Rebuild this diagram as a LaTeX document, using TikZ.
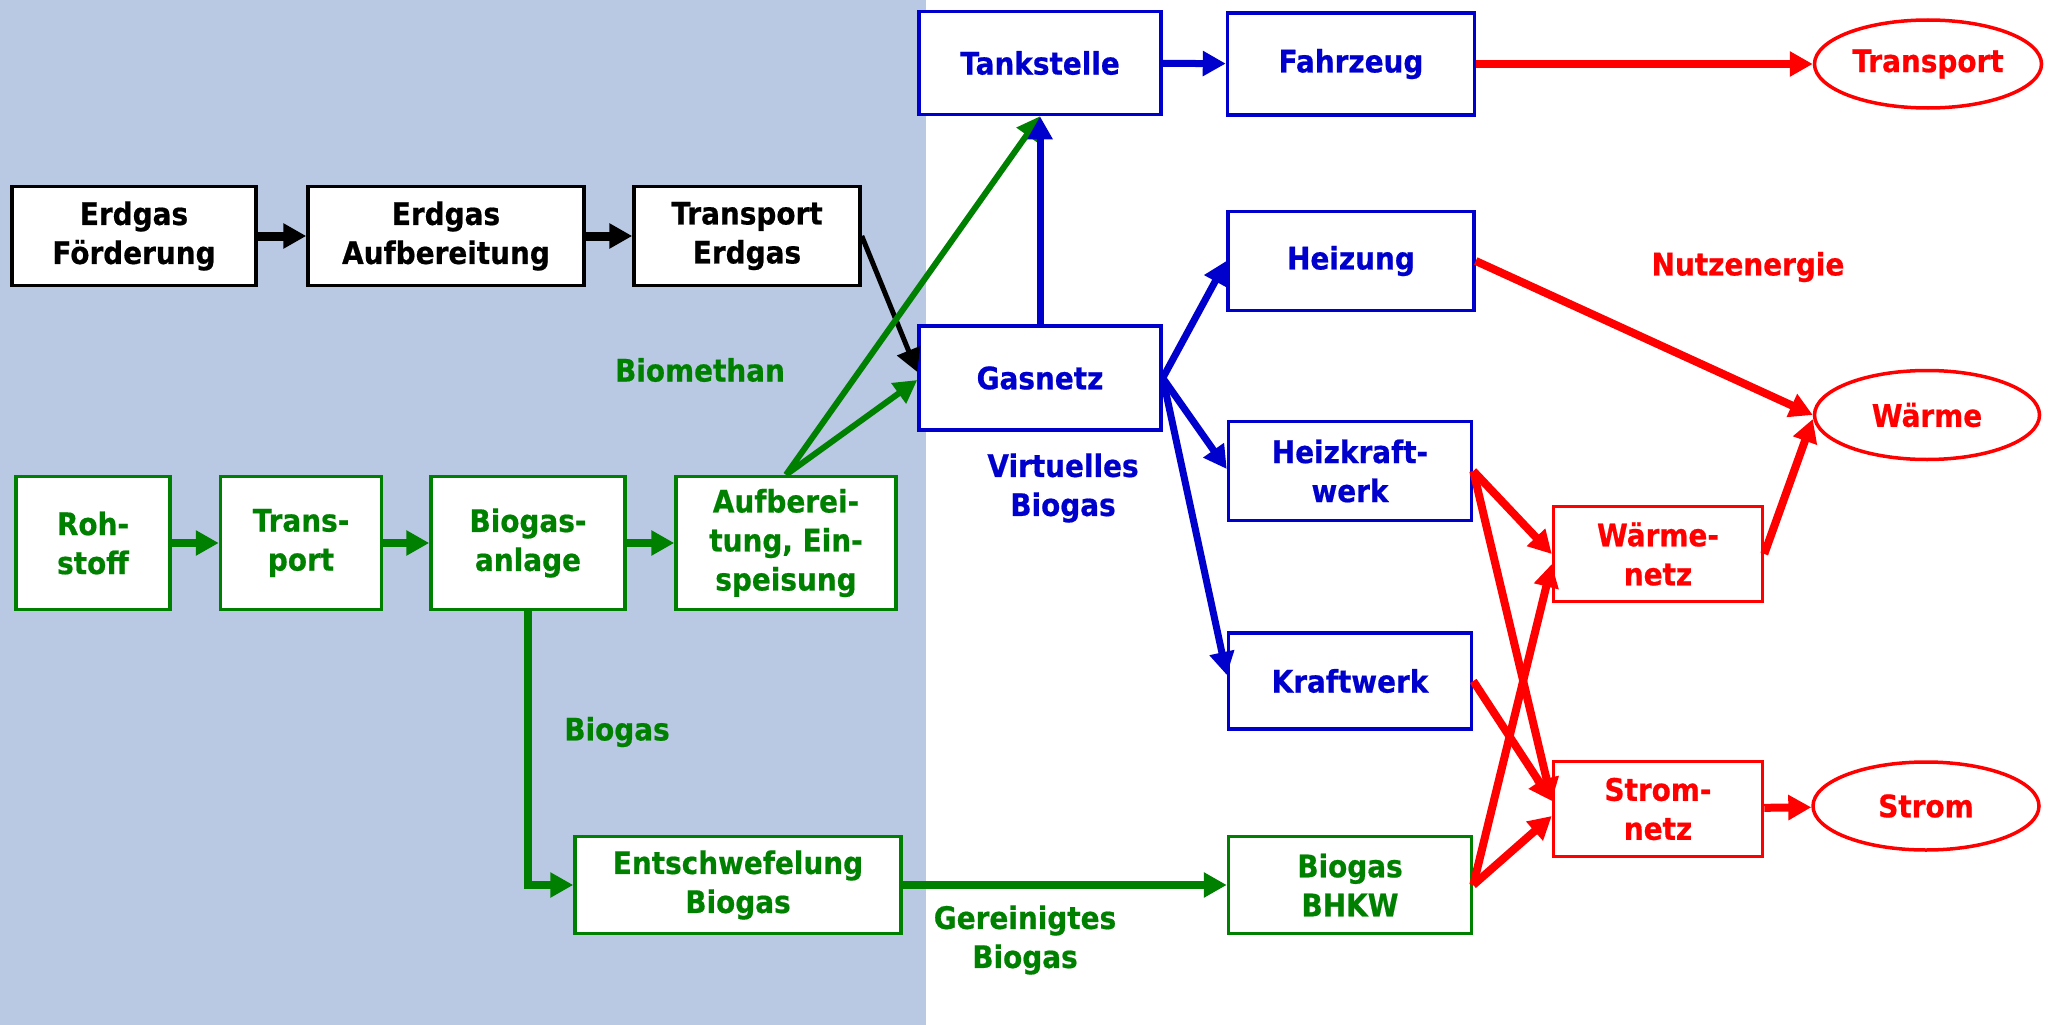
\documentclass[tikz,border=0pt]{standalone}
\usepackage{fontspec}
\setmainfont{DejaVu Sans}[FakeStretch=0.9, BoldFeatures={FakeBold=0.6}]
\usetikzlibrary{arrows.meta,shapes.geometric}

\definecolor{hintergrund}{RGB}{185,201,227}
\definecolor{gruen}{RGB}{0,128,0}
\definecolor{blau}{RGB}{0,0,204}
\definecolor{rot}{RGB}{255,0,0}

\tikzset{
  schrift/.style={font=\fontsize{31}{39}\selectfont\bfseries},
  kasten/.style={schrift, draw=#1, text=#1, fill=white, line width=3.5pt, inner sep=0pt, align=center},
  oval/.style={schrift, ellipse, draw=rot, text=rot, fill=white, line width=3.5pt, inner sep=0pt},
  beschriftung/.style={schrift, text=#1, align=center},
  pfeil/.style={draw=#1, line width=7pt, -{Triangle[length=23pt,width=24pt]}}
}

\begin{document}
\begin{tikzpicture}[x=1pt, y=-1pt]
        % Hintergrund
        \useasboundingbox (0,0) rectangle (2056,1025);
        \fill[white] (0,0) rectangle (2056,1025);
        \fill[hintergrund] (0,0) rectangle (926,1025);

        % Erdgas
        \node[kasten=black, minimum width=244, minimum height=99] (foerderung) at (134,236) {Erdgas\\Förderung};
        \node[kasten=black, minimum width=276, minimum height=99] (erdaufb) at (446,236) {Erdgas\\Aufbereitung};
        \node[kasten=black, minimum width=226, minimum height=99] (erdtrans) at (747,236) {Transport\\Erdgas};

        % Biogas
        \node[kasten=gruen, minimum width=154, minimum height=133] (rohstoff) at (93,543) {Roh-\\stoff};
        \node[kasten=gruen, minimum width=161, minimum height=133] (transp) at (301,543) {Trans-\\port};
        \node[kasten=gruen, minimum width=194, minimum height=133] (anlage) at (528,543) {Biogas-\\anlage};
        \node[kasten=gruen, minimum width=220, minimum height=133] (einspeis) at (786,543) {Aufberei-\\tung, Ein-\\speisung};
        \node[kasten=gruen, minimum width=326, minimum height=97] (entschw) at (738,885) {Entschwefelung\\Biogas};
        \node[kasten=gruen, minimum width=243, minimum height=97] (bhkw) at (1350,885) {Biogas\\BHKW};

        % Gasnetz und Verbraucher
        \node[kasten=blau, minimum width=242, minimum height=103] (tank) at (1040,63) {Tankstelle};
        \node[kasten=blau, minimum width=247, minimum height=102] (fahrzeug) at (1351,64) {Fahrzeug};
        \node[kasten=blau, minimum width=246, minimum height=99] (heizung) at (1351,261) {Heizung};
        \node[kasten=blau, minimum width=242, minimum height=104] (gasnetz) at (1040,378) {Gasnetz};
        \node[kasten=blau, minimum width=243, minimum height=99] (hkw) at (1350,471) {Heizkraft-\\werk};
        \node[kasten=blau, minimum width=243, minimum height=96] (kw) at (1350,681) {Kraftwerk};

        % Netze und Nutzenergie
        \node[kasten=rot, minimum width=209, minimum height=95] (wnetz) at (1658,554) {Wärme-\\netz};
        \node[kasten=rot, minimum width=209, minimum height=95] (snetz) at (1658,809) {Strom-\\netz};
        \node[oval, minimum width=227, minimum height=88] (etransport) at (1928,64) {Transport};
        \node[oval, minimum width=225, minimum height=89] (ewaerme) at (1927,415) {Wärme};
        \node[oval, minimum width=226, minimum height=88] (estrom) at (1926,806) {Strom};

        % Labels
        \node[beschriftung=gruen] (lbiomethan) at (700,370) {Biomethan};
        \node[beschriftung=gruen] (lbiogas) at (617,732) {Biogas};
        \node[beschriftung=gruen] (lgereinigt) at (1025,940) {Gereinigtes\\Biogas};
        \node[beschriftung=blau] (lvirtuell) at (1063,488) {Virtuelles\\Biogas};
        \node[beschriftung=rot] (lnutz) at (1748,267) {Nutzenergie};

        % Pfeile Erdgas
        \draw[pfeil=black, line width=9pt] (foerderung) -- (erdaufb);
        \draw[pfeil=black, line width=9pt] (erdaufb) -- (erdtrans);
        \draw[pfeil=black, line width=5pt] (erdtrans.east) -- ([yshift=6pt]gasnetz.west);

        % Pfeile Biogas
        \draw[pfeil=gruen, line width=8pt] (rohstoff) -- (transp);
        \draw[pfeil=gruen, line width=8pt] (transp) -- (anlage);
        \draw[pfeil=gruen, line width=8pt] (anlage) -- (einspeis);
        \draw[pfeil=gruen, line width=6pt] (einspeis.north) -- (tank.south);
        \draw[pfeil=gruen, line width=6pt] (einspeis.north) -- ([yshift=-2pt]gasnetz.west);
        \draw[pfeil=gruen, line width=8pt] (anlage.south) |- (entschw.west);
        \draw[pfeil=gruen, line width=8pt] (entschw) -- (bhkw);

        % Pfeile Gasnetz
        \draw[pfeil=blau] (gasnetz.north) -- (tank.south);
        \draw[pfeil=blau] (tank) -- (fahrzeug);
        \draw[pfeil=blau] (gasnetz.east) -- (heizung.west);
        \draw[pfeil=blau] (gasnetz.east) -- ([yshift=2pt]hkw.west);
        \draw[pfeil=blau] (gasnetz.east) -- ([yshift=6pt]kw.west);

        % Pfeile Nutzenergie
        \draw[pfeil=rot, line width=8pt] (fahrzeug) -- (etransport);
        \draw[pfeil=rot, line width=8pt] (heizung.east) -- (ewaerme.west);
        \draw[pfeil=rot, line width=8pt] (wnetz.east) -- ([yshift=-4pt]ewaerme.west);
        \draw[pfeil=rot, line width=8pt] (snetz) -- (estrom);
        \draw[pfeil=rot, line width=8pt] (hkw.east) -- (wnetz.west);
        \draw[pfeil=rot, line width=8pt] (hkw.east) -- ([yshift=8pt]snetz.west);
        \draw[pfeil=rot, line width=8pt] (kw.east) -- ([yshift=8pt]snetz.west);
        \draw[pfeil=rot, line width=8pt] (bhkw.east) -- ([yshift=-10pt]wnetz.west);
        \draw[pfeil=rot, line width=8pt] (bhkw.east) -- ([yshift=-7pt]snetz.west);
\end{tikzpicture}
\end{document}
